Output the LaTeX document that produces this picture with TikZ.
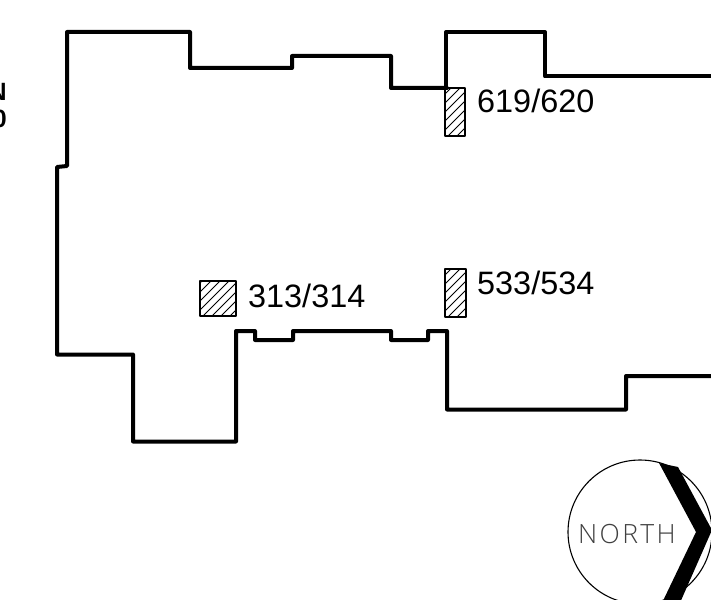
\documentclass[tikz,border=0pt]{standalone}
\usepackage{fontspec}
\setmainfont{Liberation Sans}
\newfontfamily\northfont[LetterSpace=9]{Open Sans Light}
\tikzset{
  wall/.style={line width=4pt,line join=round,line cap=round},
  hatchbox/.style={draw,line width=2.6pt,line join=round},
  hatchline/.style={line width=1pt},
  roomlabel/.style={inner sep=0pt,anchor=base west,font=\fontsize{32.4}{34}\selectfont},
  cutlabel/.style={inner sep=0pt,anchor=base east,font=\fontsize{25}{27}\selectfont\bfseries}
}
\begin{document}
\begin{tikzpicture}[x=1pt,y=-1pt]
\useasboundingbox (0,0) rectangle (711,599);
\clip (0,0) rectangle (711,599);
\fill[white] (0,0) rectangle (711,599);
% floor outline
\draw[wall] (447,88) -- (391,88) -- (391,56) -- (292,56) -- (292,68) -- (190,68) -- (190,32) -- (67,32) -- (67,166) -- (57,167) -- (57,354.5) -- (133,354.5) -- (133,441.5) -- (236,441.5) -- (236,331) -- (255,331) -- (255,340) -- (293,340) -- (293,331) -- (391,331) -- (391,340) -- (428,340) -- (428,331) -- (447,331) -- (447,409.5) -- (626,409.5) -- (626,376) -- (720,376);
\draw[wall] (446,88) -- (446,32) -- (545,32) -- (545,76.5) -- (720,76.5);
% hatched rooms
\foreach \xa/\ya/\xb/\yb/\nm in {445/88/465/136/a,445/269/466/317/b,200/281/236/316/c}{
  \begin{scope}
    \clip (\xa,\ya) rectangle (\xb,\yb);
    \foreach \k in {-60,-51,...,120}{
      \draw[hatchline] (\xa+\k,\yb) -- ++(60,-60);
    }
  \end{scope}
  \draw[hatchbox] (\xa,\ya) rectangle (\xb,\yb);
}
% labels
\node[roomlabel] (l619) at (477,112) {619/620};
\node[roomlabel] (l533) at (477,294) {533/534};
\node[roomlabel] (l313) at (248,307) {313/314};
\node[cutlabel] (cutn) at (7,101) {N};
\node[cutlabel] (cuto) at (7,128) {0};
% north marker
\draw[line width=1.1pt] (640,532) circle (72);
\fill (659,463) -- (678,467) -- (712,530) -- (679,605) -- (661,605) -- (696,532) -- cycle;
\node[inner sep=0pt,anchor=base west,text=black!75,font=\fontsize{26.5}{28}\selectfont\northfont] (north) at (578,543) {NORTH};
\end{tikzpicture}
\end{document}
